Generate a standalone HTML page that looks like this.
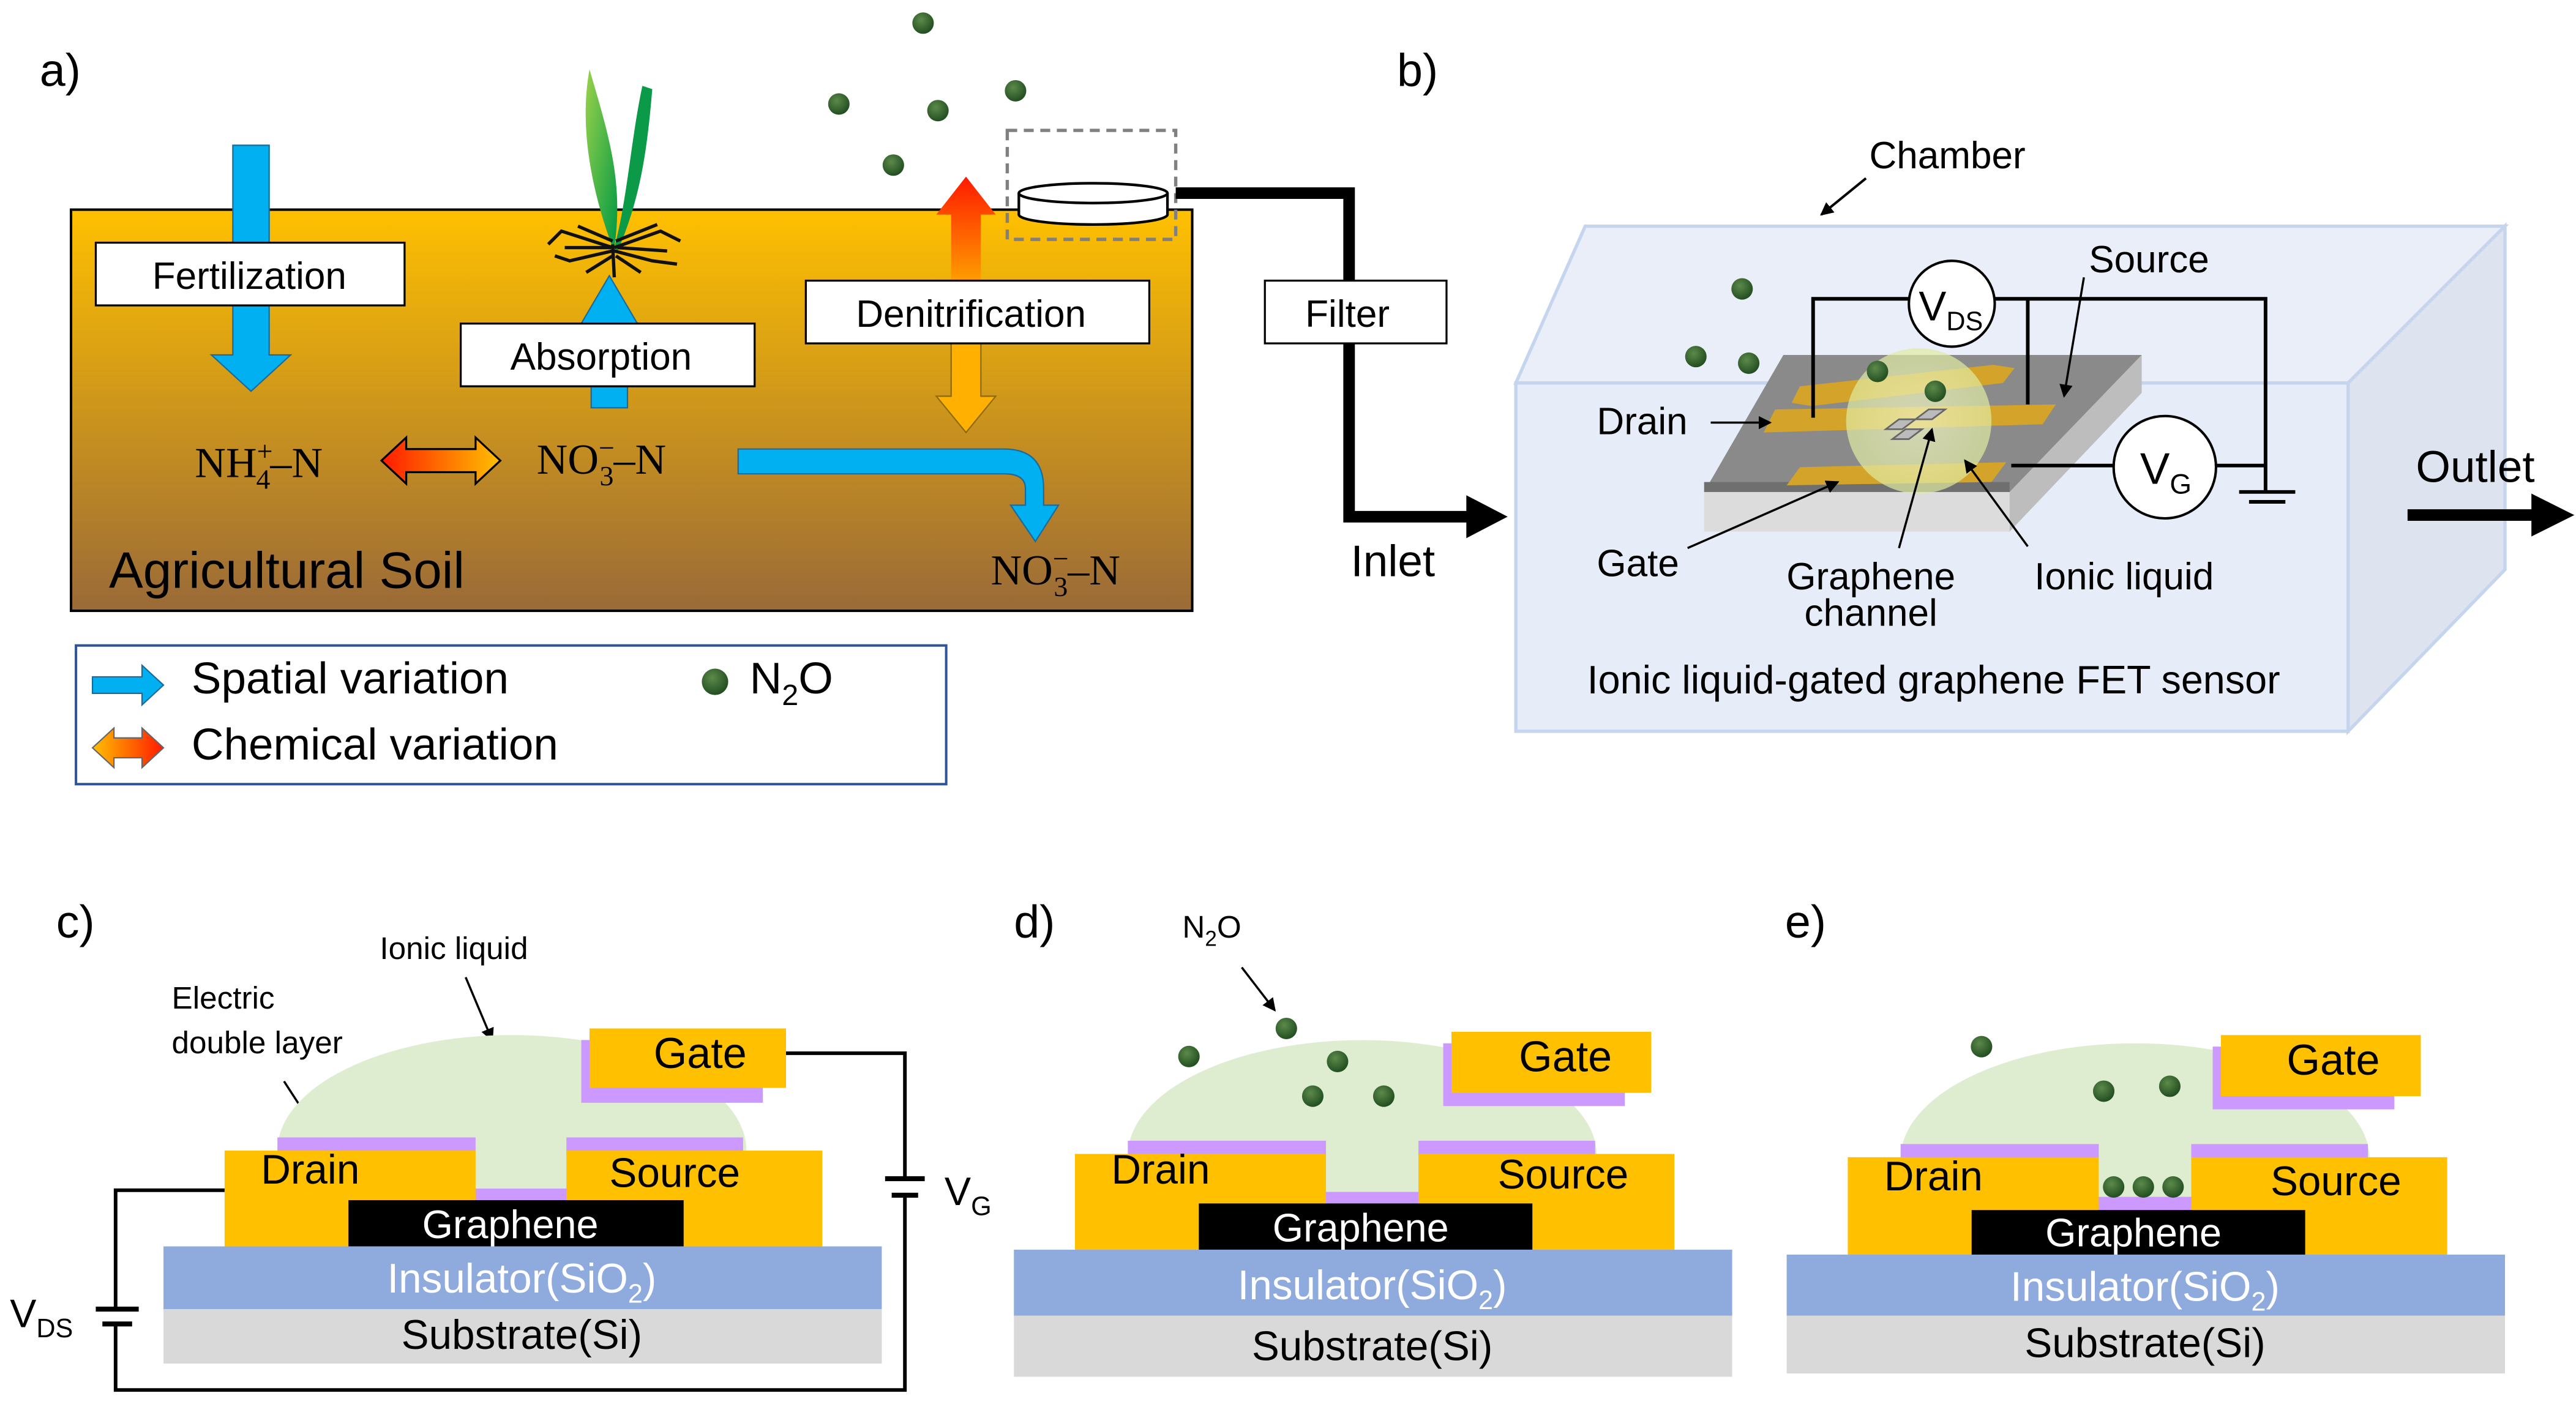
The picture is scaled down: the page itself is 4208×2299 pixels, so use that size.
<!DOCTYPE html>
<html><head><meta charset="utf-8"><style>
html,body{margin:0;padding:0;background:#fff;}
svg{display:block;}
text{font-family:"Liberation Sans Narrow","Liberation Sans",sans-serif;fill:#000;}
.serif{font-family:"Liberation Serif",serif;}
</style></head><body>
<svg width="4208" height="2299" viewBox="0 0 1560 852.3" xmlns="http://www.w3.org/2000/svg">
<defs>
<linearGradient id="soil" x1="0" y1="0" x2="0" y2="1"><stop offset="0" stop-color="#ffc000"/><stop offset="1" stop-color="#9a6a38"/></linearGradient>
<linearGradient id="chem" x1="0" y1="0" x2="1" y2="0"><stop offset="0" stop-color="#ff1a00"/><stop offset="1" stop-color="#ffc000"/></linearGradient>
<linearGradient id="chem2" x1="0" y1="0" x2="1" y2="0"><stop offset="0" stop-color="#ffc000"/><stop offset="1" stop-color="#ff1a00"/></linearGradient>
<linearGradient id="up" x1="0" y1="1" x2="0" y2="0"><stop offset="0" stop-color="#ffa000"/><stop offset="1" stop-color="#ff1a00"/></linearGradient>
<linearGradient id="leaf" x1="0" y1="0" x2="1" y2="1"><stop offset="0" stop-color="#9ad24a"/><stop offset="1" stop-color="#009944"/></linearGradient>
<radialGradient id="dot" cx="0.4" cy="0.35" r="0.7"><stop offset="0" stop-color="#5c8a4a"/><stop offset="1" stop-color="#1e4a1e"/></radialGradient>
<radialGradient id="liq" cx="0.5" cy="0.5" r="0.5"><stop offset="0" stop-color="#f4f8c8"/><stop offset="1" stop-color="#dfeaa0"/></radialGradient>
<marker id="ah" markerWidth="8" markerHeight="8" refX="7" refY="4" orient="auto" markerUnits="userSpaceOnUse"><path d="M0,0 L8,4 L0,8 z" fill="#000"/></marker>
</defs>

<!-- Panel a -->
<text x="24" y="52" font-size="28">a)</text>
<rect x="43" y="127" width="679" height="243" fill="url(#soil)" stroke="#000" stroke-width="1.5"/>
<path d="M141,88 H163 V215 H176 L152,237 L128,215 H141 Z" fill="#00b0f0" stroke="#1a6a9a" stroke-width="0.8"/>
<rect x="58" y="147" width="187" height="38" fill="#fff" stroke="#000" stroke-width="1.2"/>
<text x="151" y="175" font-size="23" text-anchor="middle">Fertilization</text>
<path d="M371,150 C360,120 350,80 357,42 C368,80 378,110 372,150 Z" fill="url(#leaf)"/>
<path d="M372,150 C380,120 382,85 389,52 L395,54 C392,90 388,120 374,152 Z" fill="#0a9a48"/>
<g stroke="#111" stroke-width="2" fill="none">
<path d="M371,148 L372,168"/><path d="M371,150 L340,140 L332,148"/><path d="M371,152 L345,158 L336,155"/><path d="M372,150 L400,140 L412,146"/><path d="M372,152 L395,158 L410,160"/><path d="M371,155 L355,165"/><path d="M373,155 L388,165"/><path d="M371,146 L350,137"/><path d="M373,146 L398,136"/><path d="M370,150 L342,150"/><path d="M374,150 L404,152"/>
</g>
<path d="M358,247 V196 H352 L369,167 L386,196 H380 V247 Z" fill="#00b0f0" stroke="#1a6a9a" stroke-width="0.8"/>
<rect x="279" y="196" width="178" height="38" fill="#fff" stroke="#000" stroke-width="1.2"/>
<text x="364" y="224" font-size="23" text-anchor="middle">Absorption</text>
<path d="M576,172 V130 H567 L585,107 L603,130 H594 V172 Z" fill="url(#up)"/>
<path d="M576,206 V240 H567 L585,262 L603,240 H594 V206 Z" fill="#ffb000" stroke="#8a6a00" stroke-width="0.8"/>
<rect x="488" y="170" width="208" height="38" fill="#fff" stroke="#000" stroke-width="1.2"/>
<text x="588" y="198" font-size="23" text-anchor="middle">Denitrification</text>
<rect x="610" y="79" width="102" height="66" fill="none" stroke="#808080" stroke-width="2" stroke-dasharray="6,4"/>
<path d="M617,117 V130 A45,6 0 0 0 707,130 V117" fill="#fff" stroke="#000" stroke-width="1.6"/>
<ellipse cx="662" cy="117" rx="45" ry="6" fill="#fff" stroke="#000" stroke-width="1.6"/>
<g fill="url(#dot)">
<circle cx="559" cy="14" r="6.5"/><circle cx="508" cy="63" r="6.5"/><circle cx="568" cy="67" r="6.5"/><circle cx="615" cy="55" r="6.5"/><circle cx="541" cy="100" r="6.5"/>
</g>
<text class="serif" x="118" y="289" font-size="26">NH<tspan font-size="17" dy="-10">+</tspan><tspan font-size="17" dx="-10" dy="17">4</tspan><tspan dy="-7">–N</tspan></text>
<path d="M231,279 L246,265 V272 H288 V265 L303,279 L288,293 V286 H246 V293 Z" fill="url(#chem)" stroke="#000" stroke-width="1.2"/>
<text class="serif" x="325" y="287" font-size="26">NO<tspan font-size="17" dy="-10">−</tspan><tspan font-size="17" dx="-9" dy="17">3</tspan><tspan dy="-7">–N</tspan></text>
<path d="M447,272 H608 Q632,272 632,296 V306 H641 L627,328 L612,306 H621 V296 Q621,287 608,287 H447 Z" fill="#00b0f0" stroke="#1a6a9a" stroke-width="0.8"/>
<text class="serif" x="600" y="354" font-size="26">NO<tspan font-size="17" dy="-10">−</tspan><tspan font-size="17" dx="-9" dy="17">3</tspan><tspan dy="-7">–N</tspan></text>
<text x="66" y="356" font-size="31">Agricultural  Soil</text>
<rect x="46" y="391" width="527" height="84" fill="#fff" stroke="#2f5597" stroke-width="1.5"/>
<path d="M56,410 H86 V403 L99,415 L86,427 V420 H56 Z" fill="#00b0f0" stroke="#1a6a9a" stroke-width="0.8"/>
<text x="116" y="420" font-size="27">Spatial variation</text>
<path d="M56,453 L69,441 V447 H86 V441 L99,453 L86,465 V459 H69 V465 Z" fill="url(#chem2)" stroke="#666" stroke-width="0.8"/>
<text x="116" y="460" font-size="27">Chemical variation</text>
<circle cx="433" cy="413" r="8" fill="url(#dot)"/>
<text x="454" y="420" font-size="27">N<tspan font-size="18" dy="7">2</tspan><tspan dy="-7">O</tspan></text>

<path d="M712,117 H817 V313 H890" fill="none" stroke="#000" stroke-width="7"/>
<path d="M888,300 L913,313 L888,326 Z" fill="#000"/>
<rect x="766" y="170" width="110" height="38" fill="#fff" stroke="#000" stroke-width="1.2"/>
<text x="816" y="198" font-size="23" text-anchor="middle">Filter</text>
<text x="818" y="349" font-size="27">Inlet</text>

<!-- Panel b -->
<text x="846" y="52" font-size="28">b)</text>
<text x="1132" y="102" font-size="23">Chamber</text>
<line x1="1130" y1="108" x2="1103" y2="130" stroke="#000" stroke-width="1.5" marker-end="url(#ah)"/>
<polygon points="918,232 960,137 1517,137 1422,232" fill="#e9eef9" stroke="#c6d5ee" stroke-width="2"/>
<polygon points="1422,232 1517,137 1517,345 1422,443" fill="#dde3ef" stroke="#c6d5ee" stroke-width="2"/>
<rect x="918" y="232" width="504" height="211" fill="#e6ecf8" stroke="#c6d5ee" stroke-width="2"/>
<polygon points="1032,298 1217,298 1217,322 1032,322" fill="#dcdcdc"/>
<polygon points="1217,298 1297,215 1297,238 1217,322" fill="#bdbdbd"/>
<polygon points="1080,215 1297,215 1217,298 1032,298" fill="#8a8a8a"/>
<polygon points="1032,292 1217,292 1217,298 1032,298" fill="#6f6f6f"/>
<g fill="#d3a32a">
<polygon points="1090,234 1207,221 1220,223 1213,232 1097,246 1085,244"/>
<polygon points="1075,248 1245,245 1237,257 1068,262"/>
<polygon points="1090,283 1215,280 1206,292 1082,294"/>
</g>
<circle cx="1162" cy="255" r="44" fill="url(#liq)" opacity="0.7"/>
<g stroke="#666" stroke-width="1" fill="#bbb"><path d="M1142,260 l8,-6 l10,0 l8,-6 l10,0 l-8,6 l-10,0 l-8,6 l-10,0 z"/><path d="M1146,266 l8,-6 l10,0 l-8,6 z"/></g>
<g stroke="#000" stroke-width="2.2" fill="none">
<path d="M1098,253 V181 H1156"/><path d="M1208,181 H1372 V297"/><path d="M1228,181 V245"/>
<path d="M1218,282 H1280"/><path d="M1342,282 H1372"/>
<path d="M1356,298 H1390 M1362,304 H1384"/>
</g>
<circle cx="1182" cy="184" r="26" fill="#fff" stroke="#000" stroke-width="1.5"/>
<text x="1162" y="194" font-size="25">V<tspan font-size="16" dy="6">DS</tspan></text>
<circle cx="1311" cy="283" r="31" fill="#fff" stroke="#000" stroke-width="1.5"/>
<text x="1296" y="293" font-size="27">V<tspan font-size="17" dy="6">G</tspan></text>
<g fill="url(#dot)">
<circle cx="1055" cy="175" r="6.5"/><circle cx="1027" cy="216" r="6.5"/><circle cx="1059" cy="220" r="6.5"/><circle cx="1137" cy="225" r="6.5"/><circle cx="1172" cy="237" r="6.5"/>
</g>
<text x="1265" y="165" font-size="23">Source</text>
<line x1="1262" y1="168" x2="1250" y2="240" stroke="#000" stroke-width="1.3" marker-end="url(#ah)"/>
<text x="967" y="263" font-size="23">Drain</text>
<line x1="1036" y1="256" x2="1072" y2="256" stroke="#000" stroke-width="1.3" marker-end="url(#ah)"/>
<text x="967" y="349" font-size="23">Gate</text>
<line x1="1022" y1="332" x2="1113" y2="292" stroke="#000" stroke-width="1.3" marker-end="url(#ah)"/>
<text x="1133" y="357" font-size="23" text-anchor="middle">Graphene</text>
<text x="1133" y="379" font-size="23" text-anchor="middle">channel</text>
<line x1="1150" y1="332" x2="1170" y2="260" stroke="#000" stroke-width="1.3" marker-end="url(#ah)"/>
<text x="1232" y="357" font-size="23">Ionic  liquid</text>
<line x1="1228" y1="331" x2="1190" y2="279" stroke="#000" stroke-width="1.3" marker-end="url(#ah)"/>
<text x="1171" y="420" font-size="24" text-anchor="middle">Ionic liquid-gated graphene FET sensor</text>
<text x="1463" y="292" font-size="27">Outlet</text>
<path d="M1458,312 H1535" stroke="#000" stroke-width="7"/>
<path d="M1533,299 L1559,312 L1533,325 Z" fill="#000"/>

<!-- Panel c -->
<text x="34" y="568" font-size="28">c)</text>
<text x="230" y="581" font-size="19">Ionic  liquid</text>
<line x1="282" y1="592" x2="298" y2="630" stroke="#000" stroke-width="1.3" marker-end="url(#ah)"/>
<text x="104" y="611" font-size="19">Electric</text>
<text x="104" y="638" font-size="19">double  layer</text>
<line x1="172" y1="655" x2="196" y2="692" stroke="#000" stroke-width="1.3" marker-end="url(#ah)"/>
<path d="M168,697 A142,70 0 0 1 452,697 Z" fill="#deedcf"/>
<rect x="286" y="690" width="59" height="32" fill="#deedcf"/>
<rect x="352" y="630" width="110" height="38" fill="#cc99ff"/>
<rect x="357" y="623" width="119" height="36" fill="#ffc000"/>
<text x="424" y="647" font-size="26" text-anchor="middle">Gate</text>
<rect x="168" y="689" width="120" height="10" fill="#cc99ff"/><rect x="343" y="689" width="107" height="10" fill="#cc99ff"/>
<rect x="285" y="720" width="61" height="10" fill="#cc99ff"/>
<rect x="136" y="697" width="152" height="58" fill="#ffc000"/><rect x="343" y="697" width="155" height="58" fill="#ffc000"/>
<text x="158" y="717" font-size="25">Drain</text><text x="369" y="719" font-size="25">Source</text>
<rect x="211" y="727" width="203" height="28" fill="#000"/>
<text x="309" y="750" font-size="24" text-anchor="middle" style="fill:#fff">Graphene</text>
<rect x="99" y="755" width="435" height="38" fill="#8faadc"/>
<text x="316" y="783" font-size="25" text-anchor="middle" style="fill:#fff">Insulator(SiO<tspan font-size="16" dy="6">2</tspan><tspan dy="-6">)</tspan></text>
<rect x="99" y="793" width="435" height="33" fill="#d9d9d9"/>
<text x="316" y="817" font-size="25" text-anchor="middle">Substrate(Si)</text>
<g stroke="#000" stroke-width="2.2" fill="none">
<path d="M476,638 H548 V714 M548,724 V842 H70 V802 M70,793 V721 H136"/>
<path d="M536,714 H560" stroke-width="3"/><path d="M540,724 H556" stroke-width="3"/>
<path d="M58,793 H84" stroke-width="3"/><path d="M62,802 H80" stroke-width="3"/>
</g>
<text x="572" y="730" font-size="24">V<tspan font-size="16" dy="6">G</tspan></text>
<text x="6" y="804" font-size="24">V<tspan font-size="16" dy="6">DS</tspan></text>

<!-- Panel d -->
<text x="614" y="568" font-size="28">d)</text>
<text x="716" y="568" font-size="19">N<tspan font-size="13" dy="5">2</tspan><tspan dy="-5">O</tspan></text>
<line x1="752" y1="586" x2="772" y2="612" stroke="#000" stroke-width="1.3" marker-end="url(#ah)"/>
<path d="M683,700 A142,70 0 0 1 967,700 Z" fill="#deedcf"/>
<rect x="801" y="692" width="60" height="32" fill="#deedcf"/>
<rect x="874" y="632" width="110" height="38" fill="#cc99ff"/>
<rect x="879" y="625" width="121" height="37" fill="#ffc000"/>
<text x="948" y="649" font-size="26" text-anchor="middle">Gate</text>
<rect x="683" y="691" width="120" height="10" fill="#cc99ff"/><rect x="859" y="691" width="107" height="10" fill="#cc99ff"/>
<rect x="800" y="722" width="62" height="10" fill="#cc99ff"/>
<rect x="651" y="699" width="152" height="58" fill="#ffc000"/><rect x="859" y="699" width="155" height="58" fill="#ffc000"/>
<text x="673" y="717" font-size="25">Drain</text><text x="907" y="720" font-size="25">Source</text>
<rect x="726" y="729" width="202" height="28" fill="#000"/>
<text x="824" y="752" font-size="24" text-anchor="middle" style="fill:#fff">Graphene</text>
<rect x="614" y="757" width="435" height="40" fill="#8faadc"/>
<text x="831" y="787" font-size="25" text-anchor="middle" style="fill:#fff">Insulator(SiO<tspan font-size="16" dy="6">2</tspan><tspan dy="-6">)</tspan></text>
<rect x="614" y="797" width="435" height="37" fill="#d9d9d9"/>
<text x="831" y="824" font-size="25" text-anchor="middle">Substrate(Si)</text>
<g fill="url(#dot)"><circle cx="720" cy="640" r="6.5"/><circle cx="779" cy="623" r="6.5"/><circle cx="810" cy="643" r="6.5"/><circle cx="795" cy="664" r="6.5"/><circle cx="838" cy="664" r="6.5"/></g>

<!-- Panel e -->
<text x="1081" y="568" font-size="28">e)</text>
<path d="M1151,702 A142,70 0 0 1 1435,702 Z" fill="#deedcf"/>
<rect x="1269" y="694" width="60" height="33" fill="#deedcf"/>
<rect x="1340" y="634" width="110" height="38" fill="#cc99ff"/>
<rect x="1345" y="627" width="121" height="37" fill="#ffc000"/>
<text x="1413" y="651" font-size="26" text-anchor="middle">Gate</text>
<rect x="1151" y="693" width="120" height="10" fill="#cc99ff"/><rect x="1327" y="693" width="107" height="10" fill="#cc99ff"/>
<rect x="1268" y="725" width="62" height="10" fill="#cc99ff"/>
<rect x="1119" y="701" width="152" height="59" fill="#ffc000"/><rect x="1327" y="701" width="155" height="59" fill="#ffc000"/>
<text x="1141" y="721" font-size="25">Drain</text><text x="1375" y="724" font-size="25">Source</text>
<rect x="1194" y="733" width="202" height="27" fill="#000"/>
<text x="1292" y="755" font-size="24" text-anchor="middle" style="fill:#fff">Graphene</text>
<rect x="1082" y="760" width="435" height="37" fill="#8faadc"/>
<text x="1299" y="788" font-size="25" text-anchor="middle" style="fill:#fff">Insulator(SiO<tspan font-size="16" dy="6">2</tspan><tspan dy="-6">)</tspan></text>
<rect x="1082" y="797" width="435" height="35" fill="#d9d9d9"/>
<text x="1299" y="822" font-size="25" text-anchor="middle">Substrate(Si)</text>
<g fill="url(#dot)"><circle cx="1200" cy="634" r="6.5"/><circle cx="1274" cy="661" r="6.5"/><circle cx="1314" cy="658" r="6.5"/><circle cx="1280" cy="719" r="6.5"/><circle cx="1298" cy="719" r="6.5"/><circle cx="1316" cy="719" r="6.5"/></g>
</svg>
</body></html>
